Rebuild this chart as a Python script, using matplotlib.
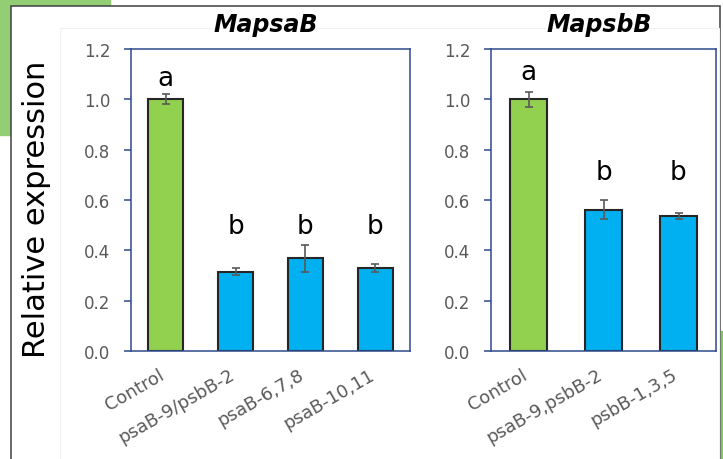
import matplotlib
matplotlib.use("Agg")
import matplotlib.pyplot as plt
from matplotlib.patches import Rectangle
from matplotlib.lines import Line2D

# MapsaB panel
psa_labels = ["Control", "psaB-9/psbB-2", "psaB-6,7,8", "psaB-10,11"]
psa_values = [1.00, 0.315, 0.368, 0.331]
psa_errors = [0.020, 0.014, 0.055, 0.016]
psa_letters = ["a", "b", "b", "b"]
psa_letter_y = [1.057, 0.47, 0.47, 0.47]

# MapsbB panel
psb_labels = ["Control", "psaB-9,psbB-2", "psbB-1,3,5"]
psb_values = [1.00, 0.561, 0.537]
psb_errors = [0.031, 0.038, 0.011]
psb_letters = ["a", "b", "b"]
psb_letter_y = [1.08, 0.685, 0.685]

yticks = [0.0, 0.2, 0.4, 0.6, 0.8, 1.0, 1.2]

GREEN = "#92D050"
BLUE = "#00B0F0"
NAVY = "#2E4A8C"
GREY = "#595959"

fig = plt.figure(figsize=(7.23, 4.60), dpi=100)
W, H = 723, 460

# decorative background: green corner block, outer frame
fig.patches.append(Rectangle((0, 1 - 136 / H), 110 / W, 136 / H,
                             transform=fig.transFigure, color="#92CF74",
                             zorder=0))
fig.patches.append(Rectangle((11 / W, -0.05), (720 - 11) / W, 1 - 7 / H + 0.05,
                             transform=fig.transFigure, facecolor="white",
                             edgecolor="#404040", lw=1.1, zorder=0.5))
fig.patches.append(Rectangle((60 / W, -0.05), (719 - 60) / W, 1 - 29 / H + 0.05,
                             transform=fig.transFigure, facecolor="none",
                             edgecolor="#f2f2f2", lw=0.8, zorder=0.6))
fig.lines.append(Line2D([722 / W, 722 / W], [0, 1 - 333 / H],
                        transform=fig.transFigure, color="#7CC95A", lw=1.6))


def panel(rect, labels, values, errors, letters, letter_y, title, tx):
    ax = fig.add_axes(rect)
    ax.set_zorder(2)
    x = list(range(len(labels)))
    colors = [GREEN] + [BLUE] * (len(labels) - 1)
    ax.bar(x, values, width=0.5, color=colors, edgecolor="#262626",
           linewidth=1.5, zorder=2)
    ax.errorbar(x, values, yerr=errors, fmt="none", ecolor=GREY,
                elinewidth=1.2, capsize=3, capthick=1.2, zorder=3)
    for xi, let, ly in zip(x, letters, letter_y):
        ax.text(xi, ly, let, ha="center", va="baseline", fontsize=19,
                color="black")
    ax.set_xlim(-0.5, len(labels) - 0.5)
    ax.set_ylim(0, 1.2)
    ax.set_yticks(yticks)
    ax.set_yticklabels([f"{v:.1f}" for v in yticks])
    ax.set_xticks(x)
    ax.set_xticklabels(labels, rotation=30, ha="right", va="baseline",
                       rotation_mode="anchor", fontsize=13, color=GREY)
    ax.tick_params(axis="x", length=0, pad=19)
    ax.tick_params(axis="y", direction="out", length=5, width=1.1,
                   color=NAVY, labelsize=12, labelcolor=GREY, pad=10)
    for s in ax.spines.values():
        s.set_color(NAVY)
        s.set_linewidth(1.1)
    ax.text(tx, 1.06, title, transform=ax.transAxes, ha="center",
            va="baseline", fontsize=17, fontweight="bold", style="italic")
    return ax


panel([131 / W, 108 / H, 279 / W, 302 / H], psa_labels, psa_values,
      psa_errors, psa_letters, psa_letter_y, "MapsaB", 0.484)
panel([491 / W, 108 / H, 225 / W, 302 / H], psb_labels, psb_values,
      psb_errors, psb_letters, psb_letter_y, "MapsbB", 0.482)

fig.text(37 / W, 1 - 209 / H, "Relative expression", rotation=90,
         ha="center", va="center", fontsize=22, color="black", zorder=3)

fig.savefig("out.png", dpi=100)
plt.close(fig)
